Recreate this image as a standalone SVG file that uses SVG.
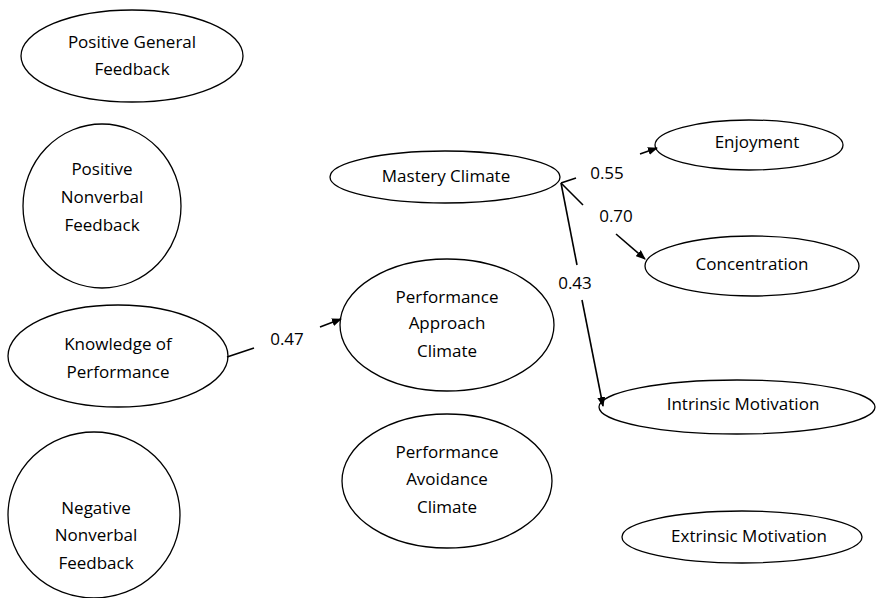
<svg xmlns="http://www.w3.org/2000/svg" width="876" height="598" viewBox="0 0 876 598">
<style>
.n ellipse{fill:#fff;stroke:#000;stroke-width:1.3}
text{font-family:"Open Sans",Lato,sans-serif;font-size:17px;fill:#000;text-anchor:middle}
.c line{stroke:#000;stroke-width:1.6}
</style>
<defs>
<marker id="ah" markerWidth="10" markerHeight="8" refX="9" refY="4" orient="auto" markerUnits="userSpaceOnUse">
<path d="M0,0 L10,4 L0,8 Z" fill="#000"/>
</marker>
</defs>
<rect width="876" height="598" fill="#fff"/>
<g class="n" id="pgf"><ellipse cx="132" cy="56" rx="111" ry="46"/><text x="132" y="48">Positive General</text><text x="132" y="75">Feedback</text></g>
<g class="n" id="pnf"><ellipse cx="102" cy="206" rx="79" ry="82"/><text x="102" y="175">Positive</text><text x="102" y="203">Nonverbal</text><text x="102" y="231">Feedback</text></g>
<g class="n" id="kop"><ellipse cx="118" cy="356" rx="110" ry="51"/><text x="118" y="350">Knowledge of</text><text x="118" y="378">Performance</text></g>
<g class="n" id="nnf"><ellipse cx="94" cy="515" rx="86" ry="83"/><text x="96" y="514">Negative</text><text x="96" y="541">Nonverbal</text><text x="96" y="569">Feedback</text></g>
<g class="n" id="mc"><ellipse cx="445" cy="177" rx="115" ry="26"/><text x="446" y="182">Mastery Climate</text></g>
<g class="n" id="pac"><ellipse cx="447" cy="325" rx="107" ry="66"/><text x="447" y="303">Performance</text><text x="447" y="329">Approach</text><text x="447" y="357">Climate</text></g>
<g class="n" id="pavc"><ellipse cx="447" cy="481" rx="105" ry="67"/><text x="447" y="458">Performance</text><text x="447" y="485">Avoidance</text><text x="447" y="513">Climate</text></g>
<g class="n" id="enj"><ellipse cx="749" cy="145" rx="94" ry="25"/><text x="757" y="148">Enjoyment</text></g>
<g class="n" id="con"><ellipse cx="752" cy="266" rx="107" ry="30"/><text x="752" y="270">Concentration</text></g>
<g class="n" id="im"><ellipse cx="737" cy="407" rx="138" ry="27"/><text x="743" y="410">Intrinsic Motivation</text></g>
<g class="n" id="em"><ellipse cx="742" cy="537" rx="120" ry="26"/><text x="749" y="542">Extrinsic Motivation</text></g>
<g class="c" id="connectors">
<line x1="227" y1="357" x2="254" y2="348"/>
<line x1="320" y1="327" x2="341" y2="319" marker-end="url(#ah)"/>
<text x="287" y="345">0.47</text>
<line x1="561" y1="183" x2="576" y2="178"/>
<line x1="640" y1="154" x2="657" y2="148" marker-end="url(#ah)"/>
<text x="607" y="179">0.55</text>
<line x1="561" y1="183" x2="583" y2="205"/>
<line x1="616" y1="234" x2="645" y2="259" marker-end="url(#ah)"/>
<text x="616" y="222">0.70</text>
<line x1="561" y1="183" x2="577" y2="265"/>
<line x1="582" y1="300" x2="603" y2="406" marker-end="url(#ah)"/>
<text x="575" y="289">0.43</text>
</g>
</svg>
